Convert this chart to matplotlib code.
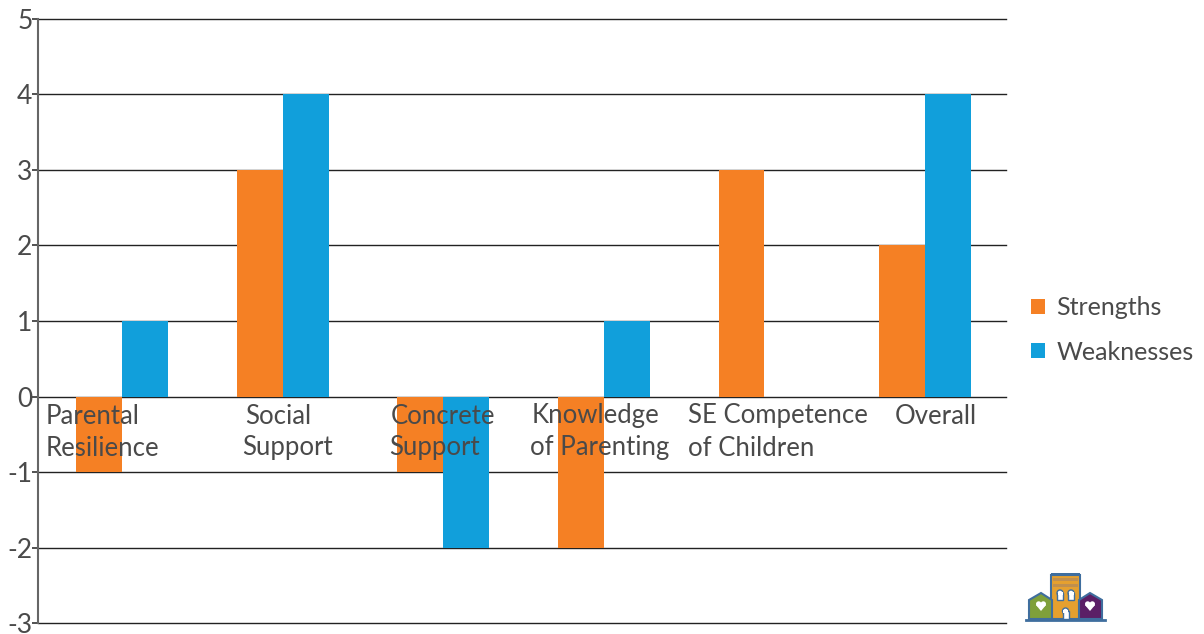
import matplotlib
matplotlib.use('Agg')
import matplotlib.pyplot as plt
import numpy as np
from matplotlib.patches import Circle, Polygon, Rectangle

plt.rcParams['font.family'] = ['Lato', 'DejaVu Sans']
plt.rcParams['axes.unicode_minus'] = False

W, H = 1204, 634

strengths = [-1, 3, -1, -2, 3, 2]
weaknesses = [1, 4, -2, 1, 0, 4]
y_ticks = [-3, -2, -1, 0, 1, 2, 3, 4, 5]

# (text, left edge px, centre y px) -- labels sit over the bars in the original
cat_labels = [('Parental', 46, 416), ('Resilience', 46, 448),
              ('Social', 245, 416), ('Support', 242, 448),
              ('Concrete', 391, 416), ('Support', 389, 448),
              ('Knowledge', 532, 416), ('of Parenting', 530, 448),
              ('SE Competence', 688, 416), ('of Children', 688, 448),
              ('Overall', 895, 416)]

ORANGE = '#F58024'
BLUE = '#119FDB'
TEXT = '#4A4A4A'

fig = plt.figure(figsize=(W / 100, H / 100), dpi=100)
ax = fig.add_axes([38 / W, 1 - 623.4 / H, (1006 - 38) / W, (623.4 - 18.6) / H])

x = np.arange(len(strengths))
bar_w = 0.286
ax.bar(x - bar_w / 2, strengths, bar_w, color=ORANGE, label='Strengths', zorder=3)
ax.bar(x + bar_w / 2, weaknesses, bar_w, color=BLUE, label='Weaknesses', zorder=3)

ax.set_xlim(-0.523, 5.504)
ax.set_ylim(-3, 5)
ax.set_yticks(y_ticks)
ax.set_xticks([])
ax.tick_params(axis='y', length=4, width=1.2, color='#333333', labelsize=19,
               labelcolor=TEXT, pad=0)
ax.grid(axis='y', color='#222222', linewidth=1.0, zorder=1)
for line in ax.get_ygridlines():
    line.set_clip_on(False)
ax.set_axisbelow(True)
for side in ['top', 'right', 'bottom']:
    ax.spines[side].set_visible(False)
ax.spines['left'].set_color('#666666')
ax.spines['left'].set_linewidth(1.5)

ax.legend(loc='center left', bbox_to_anchor=(1031 / W, 1 - 330 / H),
          bbox_transform=fig.transFigure, frameon=False,
          prop={'size': 18}, labelcolor=TEXT,
          handlelength=0.56, handleheight=0.56, handletextpad=0.46,
          labelspacing=0.85, borderpad=0, borderaxespad=0)

# overlay in pixel coordinates for labels and the logo
over = fig.add_axes([0, 0, 1, 1], facecolor='none')
over.set_xlim(0, W)
over.set_ylim(H, 0)
over.axis('off')

for label, px, py in cat_labels:
    over.text(px, py, label, ha='left', va='center', fontsize=18.5, color=TEXT,
              zorder=5)

OUTLINE = '#3F6E9E'
over.add_patch(Rectangle((1051, 575), 29, 44, fc='#E5A02F', ec=OUTLINE, lw=1.5))
over.add_patch(Rectangle((1051, 573), 29, 3, fc=OUTLINE, ec='none'))
for ly in (578, 584):
    over.add_patch(Rectangle((1053, ly), 25, 3, fc='#C08F4E', ec='none'))
over.add_patch(Polygon([(1029, 619), (1029, 600), (1041, 593), (1052, 600), (1052, 619)],
                       fc='#7FA03A', ec=OUTLINE, lw=1.5))
over.add_patch(Polygon([(1079, 619), (1079, 600), (1090, 593), (1102, 600), (1102, 619)],
                       fc='#5B1F66', ec=OUTLINE, lw=1.5))
# arched windows and door
for wx, top, bot in [(1060, 593, 600), (1071, 593, 600), (1065.5, 611, 619)]:
    over.add_patch(Circle((wx, top), 3, fc='white', ec=OUTLINE, lw=1))
    over.add_patch(Rectangle((wx - 3, top), 6, bot - top, fc='white', ec=OUTLINE, lw=1))
    over.add_patch(Rectangle((wx - 2.5, top - 1), 5, 3, fc='white', ec='none'))
for hx in (1041, 1090):
    over.add_patch(Circle((hx - 2.3, 604), 2.7, fc='white', ec='none'))
    over.add_patch(Circle((hx + 2.3, 604), 2.7, fc='white', ec='none'))
    over.add_patch(Polygon([(hx - 5, 605), (hx + 5, 605), (hx, 611)], fc='white', ec='none'))
over.plot([1026, 1105], [620, 620], color=OUTLINE, lw=2)

fig.savefig('out.png', dpi=100)
